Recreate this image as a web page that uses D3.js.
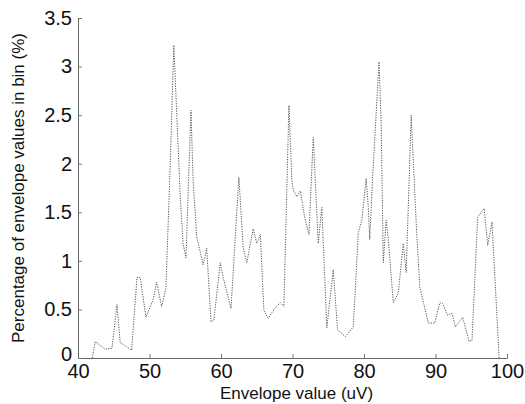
<!DOCTYPE html>
<html>
<head>
<meta charset="utf-8">
<script src="https://cdn.jsdelivr.net/npm/d3@7"></script>
<style>
  body { margin: 0; background: #fff; }
  svg { display: block; }
  .tick text { font-family: "Liberation Sans", Arial, sans-serif; font-size: 20px; fill: #111; }
  .label { font-family: "Liberation Sans", Arial, sans-serif; font-size: 17px; fill: #111; }
</style>
</head>
<body>
<div id="chart"></div>
<script>
// Envelope value bins (uV) and percentage of values in each bin
const envValue = [
    42.0, 42.4, 43.8, 44.75, 45.45, 45.9, 47.5, 48.25, 48.7, 49.5,
    50.5, 51.0, 51.7, 52.3, 52.9, 53.4, 54.3, 54.7, 55.1, 55.8,
    56.1, 56.6, 57.5, 58.0, 58.6, 59.0, 59.9, 60.3, 61.4, 62.5,
    63.1, 63.6, 64.5, 65.0, 65.5, 66.0, 66.6, 67.5, 68.3, 68.8,
    69.5, 69.9, 70.1, 70.6, 71.1, 71.7, 72.3, 72.9, 73.6, 74.1,
    74.8, 75.7, 76.3, 77.4, 78.5, 79.2, 79.7, 80.3, 80.6, 80.8,
    81.2, 82.1, 82.4, 82.7, 83.1, 83.4, 84.1, 84.8, 85.5, 85.9,
    86.6, 87.3, 87.8, 89.0, 89.9, 90.6, 91.0, 91.7, 92.3, 92.8,
    93.8, 94.7, 95.1, 95.9, 96.8, 97.3, 97.9, 98.9
];
const binPct = [
    0.00, 0.17, 0.09, 0.10, 0.55, 0.16, 0.08, 0.83, 0.83, 0.42,
    0.60, 0.78, 0.53, 0.72, 2.00, 3.22, 1.66, 1.18, 1.03, 2.55,
    1.83, 1.25, 0.96, 1.13, 0.37, 0.39, 0.98, 0.83, 0.51, 1.86,
    1.14, 0.98, 1.33, 1.18, 1.27, 0.49, 0.41, 0.51, 0.57, 0.53,
    2.60, 1.83, 1.73, 1.66, 1.72, 1.45, 1.27, 2.27, 1.18, 1.55,
    0.31, 0.91, 0.29, 0.22, 0.32, 1.29, 1.42, 1.85, 1.56, 1.22,
    1.85, 3.05, 2.42, 0.98, 1.42, 1.22, 0.57, 0.67, 1.18, 0.88,
    2.50, 1.39, 0.73, 0.36, 0.36, 0.57, 0.56, 0.44, 0.46, 0.32,
    0.42, 0.17, 0.18, 1.45, 1.54, 1.16, 1.40, 0.00
];
const xTicks = [40, 50, 60, 70, 80, 90, 100];
const yTicks = [0, 0.5, 1, 1.5, 2, 2.5, 3, 3.5];

const width = 525, height = 404;
const margin = { left: 78, right: 18, top: 18, bottom: 46 };

const svg = d3.select('#chart').append('svg')
    .attr('width', width)
    .attr('height', height);

const x = d3.scaleLinear().domain([40, 100]).range([margin.left, width - margin.right]);
const y = d3.scaleLinear().domain([0, 3.5]).range([height - margin.bottom, margin.top]);

// Axes (ticks point inward, MATLAB style)
const xAxis = svg.append('g')
    .attr('transform', `translate(0,${y(0)})`)
    .call(d3.axisBottom(x).tickValues(xTicks).tickSize(-4).tickPadding(6).tickFormat(d3.format('d')));
const yAxis = svg.append('g')
    .attr('transform', `translate(${x(40)},0)`)
    .call(d3.axisLeft(y).tickValues(yTicks).tickSize(-4).tickPadding(6).tickFormat(d => d));

[xAxis, yAxis].forEach(g => {
    g.select('.domain').attr('stroke', '#666').attr('stroke-width', 1);
    g.selectAll('.tick line').attr('stroke', '#777');
});

// the "0" label sits a little higher so it clears the "40" below it
yAxis.selectAll('.tick text').filter(d => d === 0).attr('dy', '0.12em');

// Data line: thin dotted trace
const line = d3.line()
    .x((d, i) => x(envValue[i]))
    .y(d => y(d));

svg.append('path')
    .datum(binPct)
    .attr('d', line)
    .attr('fill', 'none')
    .attr('stroke', '#555')
    .attr('stroke-width', 1)
    .attr('stroke-dasharray', '1.2,1.3');

// Axis labels
svg.append('text')
    .attr('class', 'label')
    .attr('x', (x(40) + x(100)) / 2 + 4)
    .attr('y', 399)
    .attr('text-anchor', 'middle')
    .text('Envelope value (uV)');

svg.append('text')
    .attr('class', 'label')
    .attr('transform', `translate(24,${(y(0) + y(3.5)) / 2}) rotate(-90)`)
    .attr('text-anchor', 'middle')
    .text('Percentage of envelope values in bin (%)');
</script>
</body>
</html>
